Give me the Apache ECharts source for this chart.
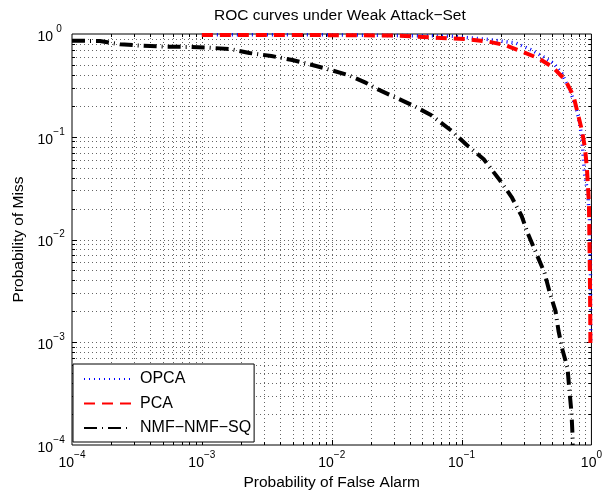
<!DOCTYPE html>
<html>
<head>
<meta charset="utf-8">
<script src="https://cdn.jsdelivr.net/npm/echarts@6/dist/echarts.min.js"></script>
<style>
  html, body { margin: 0; padding: 0; background: #fff; }
  #chart { width: 605px; height: 498px; }
</style>
</head>
<body>
<div id="chart"></div>
<script>
const FONT = '"Liberation Sans", Arial, Helvetica, sans-serif';

// Axis ranges and decade tick labels (10^exponent)
const X_MIN = 1e-4, X_MAX = 1;
const Y_MIN = 1e-4, Y_MAX = 1;
const DECADE_TICKS = [1e-4, 1e-3, 1e-2, 1e-1, 1];
const DECADE_EXPONENTS = ['\u22124', '\u22123', '\u22122', '\u22121', '0'];
const MINOR_STEPS = [2, 3, 4, 5, 6, 7, 8, 9];

const SERIES_NAMES = ['OPCA', 'PCA', 'NMF\u2212NMF\u2212SQ'];

// OPCA: probability of false alarm / probability of miss
const opcaPfa = [0.001, 0.0096, 0.0798, 0.1618, 0.261, 0.3384, 0.4153, 0.5105, 0.592, 0.688, 0.750, 0.796, 0.843, 0.884, 0.938, 0.966, 0.982, 0.989];
const opcaPm  = [0.985, 0.982, 0.956, 0.884, 0.817, 0.707, 0.611, 0.519, 0.414, 0.2745, 0.2037, 0.1512, 0.1001, 0.0441, 0.0282, 0.0155, 0.00632, 0.00098];

// PCA
const pcaPfa = [0.001, 0.0096, 0.033, 0.0561, 0.0798, 0.1138, 0.1618, 0.2148, 0.2851, 0.3917, 0.5023, 0.6284, 0.7278, 0.8432, 0.891, 0.921, 0.940, 0.957, 0.970, 0.977, 0.982];
const pcaPm  = [0.98, 0.975, 0.965, 0.929, 0.908, 0.888, 0.841, 0.782, 0.683, 0.580, 0.477, 0.357, 0.249, 0.1163, 0.0786, 0.0511, 0.0339, 0.0222, 0.00632, 0.00258, 0.00098];

// NMF-NMF-SQ
const nmfPfa = [1e-4, 1.64e-4, 2.34e-4, 3.51e-4, 5.18e-4, 7.77e-4, 1.147e-3, 1.692e-3, 2.326e-3, 3.431e-3, 4.973e-3, 7.086e-3, 9.568e-3, 1.363e-2, 1.840e-2, 2.235e-2, 4.150e-2, 5.806e-2, 8.415e-2, 0.1097, 0.1482, 0.1966, 0.2430, 0.2902, 0.3226, 0.4357, 0.4760, 0.5292, 0.5580, 0.5989, 0.6540, 0.6777, 0.7024, 0.7150, 0.7170];
const nmfPm  = [0.861, 0.855, 0.794, 0.769, 0.752, 0.749, 0.736, 0.710, 0.653, 0.611, 0.558, 0.499, 0.451, 0.395, 0.334, 0.2915, 0.2037, 0.1628, 0.1138, 0.0831, 0.0603, 0.0379, 0.0259, 0.01693, 0.01157, 0.00472, 0.00308, 0.00201, 0.001287, 8.41e-4, 5.62e-4, 3.35e-4, 2.05e-4, 1.25e-4, 1e-4];

function zip(xs, ys) { return xs.map((x, i) => [x, ys[i]]); }

// Positions of the log grid (decades plus 2..9 within each decade)
const GRID_VALUES = [];
DECADE_TICKS.forEach((d, i) => {
  GRID_VALUES.push(d);
  if (i < DECADE_TICKS.length - 1) MINOR_STEPS.forEach(m => GRID_VALUES.push(d * m));
});

function isDecade(v) {
  return DECADE_TICKS.some(t => Math.abs(Math.log10(t) - Math.log10(v)) < 1e-9);
}
function exponentOf(v) {
  let best = 0, err = Infinity;
  DECADE_TICKS.forEach((t, i) => {
    const e = Math.abs(Math.log10(t) - Math.log10(v));
    if (e < err) { err = e; best = i; }
  });
  return DECADE_EXPONENTS[best];
}

// Dotted grid lines with inward tick marks on both opposite edges
function gridSeries(vertical) {
  return {
    type: 'custom',
    coordinateSystem: 'cartesian2d',
    silent: true,
    z: 1,
    clip: false,
    data: GRID_VALUES.map(v => vertical ? [v, Y_MIN] : [X_MIN, v]),
    renderItem: function (params, api) {
      const v = api.value(vertical ? 0 : 1);
      const children = [];
      const len = isDecade(v) ? 5 : 3;
      const onEdge = vertical ? (v <= X_MIN || v >= X_MAX) : (v <= Y_MIN || v >= Y_MAX);
      if (onEdge) return { type: 'group', children };
      const dotted = { stroke: '#666', lineWidth: 1, lineDash: [1, 3] };
      const solid = { stroke: '#000', lineWidth: 1 };
      if (vertical) {
        const a = api.coord([v, Y_MIN]);
        const b = api.coord([v, Y_MAX]);
        const x = Math.round(a[0]) + 0.5;
        children.push({ type: 'line', shape: { x1: x, y1: b[1], x2: x, y2: a[1] }, style: dotted });
        children.push({ type: 'line', shape: { x1: x, y1: a[1], x2: x, y2: a[1] - len }, style: solid });
        children.push({ type: 'line', shape: { x1: x, y1: b[1], x2: x, y2: b[1] + len }, style: solid });
      } else {
        const a = api.coord([X_MIN, v]);
        const b = api.coord([X_MAX, v]);
        const y = Math.round(a[1]) + 0.5;
        children.push({ type: 'line', shape: { x1: a[0], y1: y, x2: b[0], y2: y }, style: dotted });
        children.push({ type: 'line', shape: { x1: a[0], y1: y, x2: a[0] + len, y2: y }, style: solid });
        children.push({ type: 'line', shape: { x1: b[0], y1: y, x2: b[0] - len, y2: y }, style: solid });
      }
      return { type: 'group', children };
    }
  };
}

const chart = echarts.init(document.getElementById('chart'), null, { renderer: 'canvas' });

const labelRichX = {
  b: { fontFamily: FONT, fontSize: 14, color: '#000', padding: [6, 0, 0, 0] },
  e: { fontFamily: FONT, fontSize: 10, color: '#000', padding: [0, 0, 10, 0] }
};
const labelRichY = {
  b: { fontFamily: FONT, fontSize: 14, color: '#000', padding: [6, 0, 0, 0] },
  e: { fontFamily: FONT, fontSize: 10, color: '#000', padding: [0, 0, 10, 0], width: 12, align: 'left' }
};

chart.setOption({
  animation: false,
  backgroundColor: '#fff',
  title: {
    text: 'ROC curves under Weak Attack\u2212Set',
    left: 209,
    top: 3,
    textStyle: { fontFamily: FONT, fontSize: 15.5, fontWeight: 'normal', color: '#000' }
  },
  grid: {
    left: 72, right: 12, top: 34, bottom: 53,
    show: true, backgroundColor: '#fff', borderColor: '#000', borderWidth: 1
  },
  legend: {
    data: SERIES_NAMES,
    orient: 'vertical',
    left: 73,
    top: 364,
    itemWidth: 47,
    itemHeight: 14,
    itemGap: 8.5,
    padding: [7, 3, 6, 10],
    backgroundColor: '#fff',
    borderColor: '#000',
    borderWidth: 1,
    borderRadius: 0,
    itemStyle: { opacity: 0 },
    textStyle: { fontFamily: FONT, fontSize: 16, color: '#000', padding: [0, 0, 0, 4] }
  },
  xAxis: {
    type: 'log',
    logBase: 10,
    min: X_MIN,
    max: X_MAX,
    name: 'Probability of False Alarm',
    nameLocation: 'middle',
    nameGap: 30,
    nameTextStyle: { fontFamily: FONT, fontSize: 15.5, color: '#000' },
    axisLine: { show: false },
    axisTick: { show: false },
    splitLine: { show: false },
    minorTick: { show: false },
    axisLabel: {
      margin: 5,
      formatter: v => '{b|10}{e|' + exponentOf(v) + '}',
      rich: labelRichX
    }
  },
  yAxis: {
    type: 'log',
    logBase: 10,
    min: Y_MIN,
    max: Y_MAX,
    name: 'Probability of Miss',
    nameLocation: 'middle',
    nameGap: 42,
    nameTextStyle: { fontFamily: FONT, fontSize: 15.5, color: '#000' },
    axisLine: { show: false },
    axisTick: { show: false },
    splitLine: { show: false },
    minorTick: { show: false },
    axisLabel: {
      margin: 7,
      formatter: v => '{b|10}{e|' + exponentOf(v) + '}',
      rich: labelRichY
    }
  },
  series: [
    gridSeries(true),
    gridSeries(false),
    {
      name: SERIES_NAMES[0],
      type: 'line',
      data: zip(opcaPfa, opcaPm),
      symbol: 'none',
      showSymbol: false,
      z: 3,
      lineStyle: { color: '#0000ff', width: 3.5, type: [1, 4] },
      itemStyle: { color: '#0000ff' }
    },
    {
      name: SERIES_NAMES[1],
      type: 'line',
      data: zip(pcaPfa, pcaPm),
      symbol: 'none',
      showSymbol: false,
      z: 4,
      lineStyle: { color: '#ff0000', width: 4, type: [11, 7] },
      itemStyle: { color: '#ff0000' }
    },
    {
      name: SERIES_NAMES[2],
      type: 'line',
      data: zip(nmfPfa, nmfPm),
      symbol: 'none',
      showSymbol: false,
      z: 5,
      lineStyle: { color: '#000000', width: 4, type: [13, 5, 1, 5] },
      itemStyle: { color: '#000000' }
    }
  ]
});
</script>
</body>
</html>
